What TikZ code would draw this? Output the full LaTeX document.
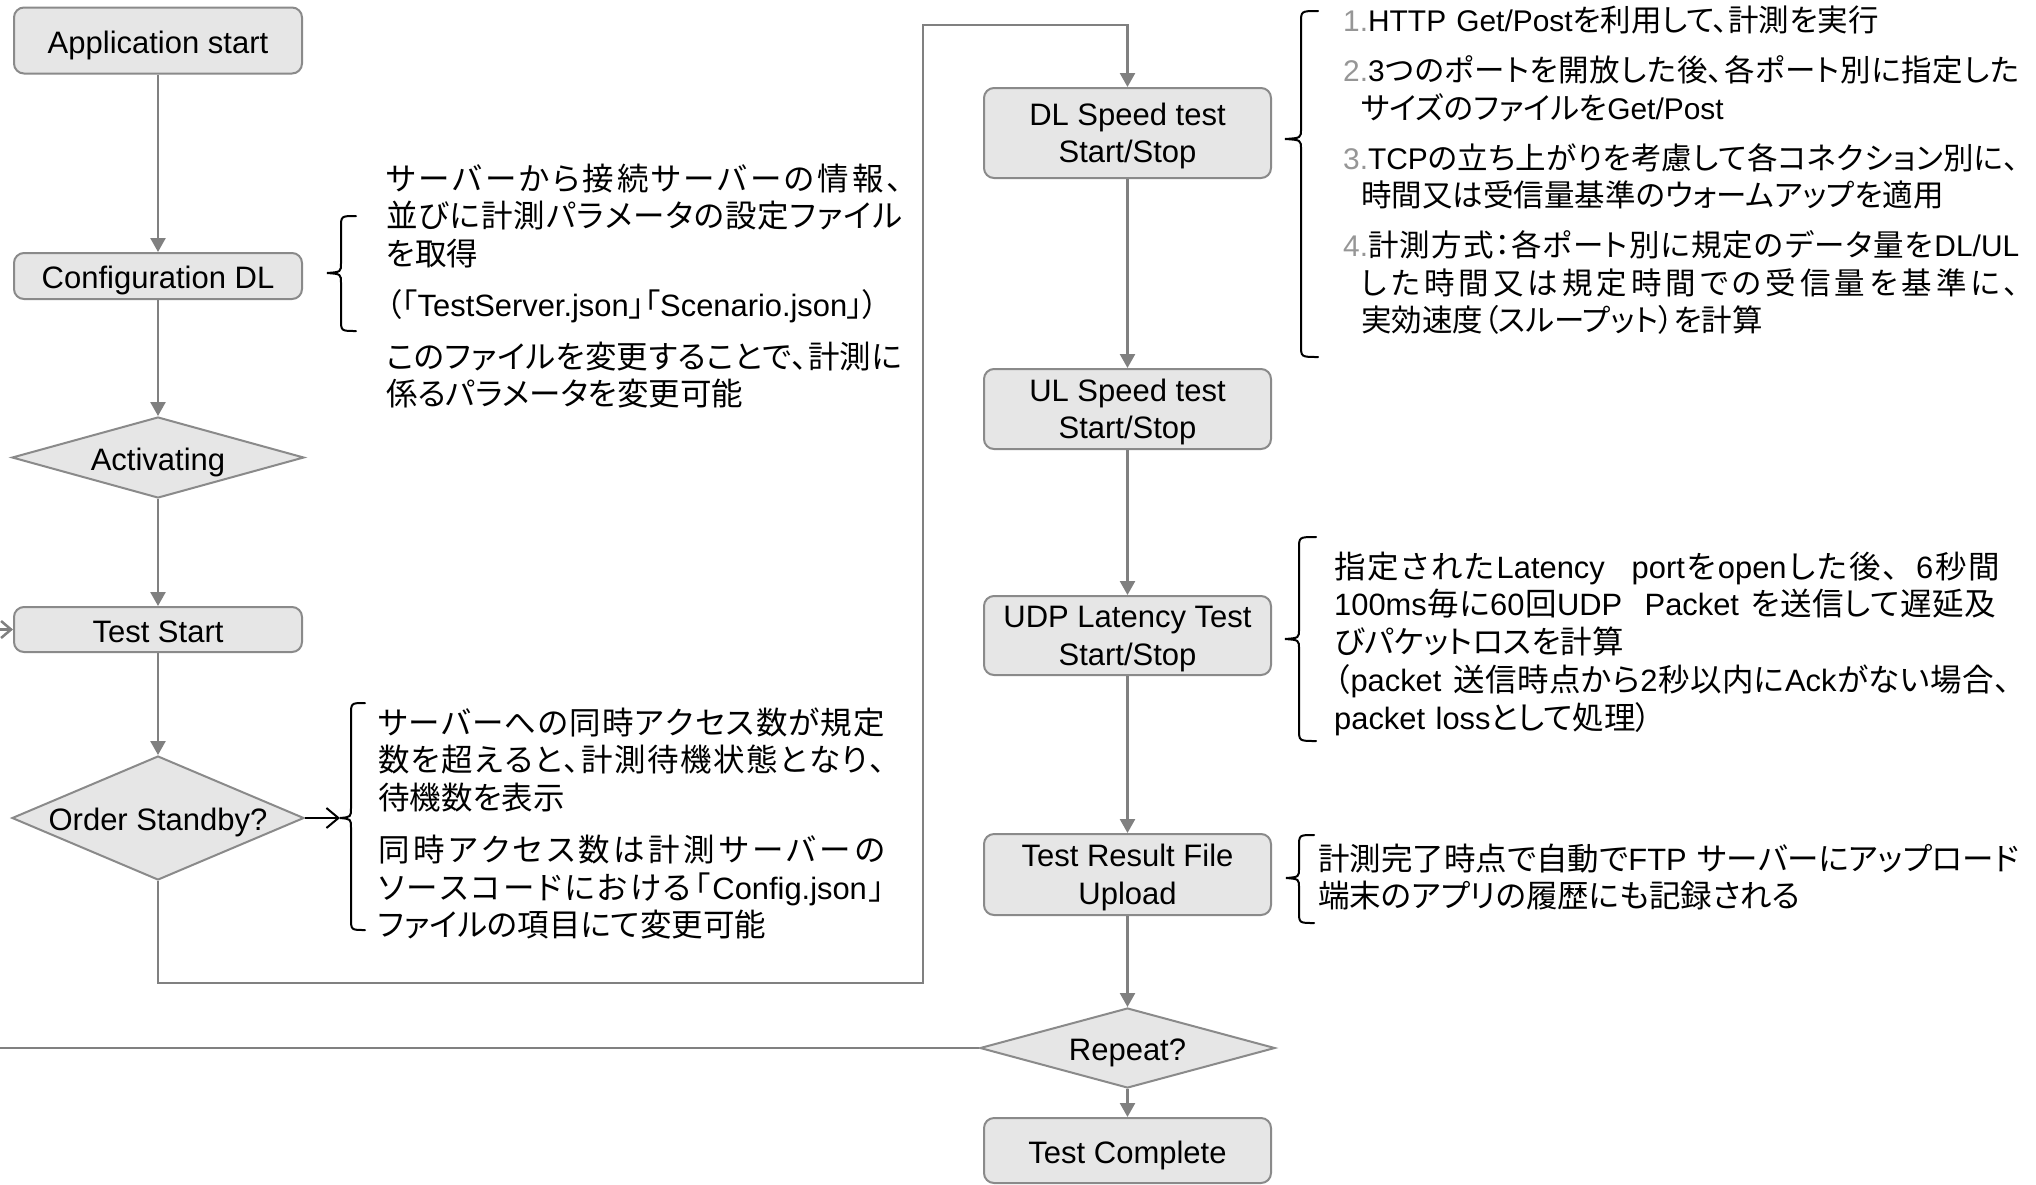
\documentclass[tikz,border=0pt]{standalone}
\usepackage{fontspec}
\setmainfont{Liberation Sans}
\newfontfamily\jpp[RawFeature=+palt]{Noto Sans CJK JP}
\newfontfamily\jpf{Noto Sans CJK JP}
\newfontfamily\lat[Scale=0.98]{Liberation Sans}
\usetikzlibrary{arrows.meta,shapes.geometric}
\definecolor{cline}{RGB}{128,128,128}
\definecolor{cborder}{RGB}{138,138,138}
\definecolor{cfill}{RGB}{230,230,230}
\definecolor{numgray}{RGB}{150,150,150}
\newcommand\lblfont{\fontsize{31}{37.5}\selectfont}
\newcommand\notefont{\jpp\fontsize{31.5}{37.5}\selectfont}
\newcommand\notefontb{\jpp\fontsize{30.5}{37.5}\selectfont}
\newcommand\notefontc{\jpp\fontsize{31.5}{37.75}\selectfont}
\newcommand\EN[1]{{\lat #1}}
\newcommand\FW[1]{{\jpf #1}}
\newcommand\twolines[2]{\rule{0pt}{28.5pt}#1\\#2\rule[-7pt]{0pt}{7pt}}
\makeatletter
\newcommand\jst[2]{\leavevmode\hbox to #1{\jst@#2\relax}}
\def\jst@#1{\ifx\relax#1\unskip\else#1\hskip 0pt plus 1fil\relax\expandafter\jst@\fi}
\makeatother
% brace: name, tip x, vertical x, hook x, top y, tip y, bottom y
\newcommand\curly[7]{%
  \coordinate (#1) at (#2,#6);
  \draw[brc] (#4,#5) .. controls (#3,#5) .. ({#3},{#5+12}) -- ({#3},{#6-10})
    .. controls (#3,{#6-1}) .. (#1) .. controls (#3,{#6+1}) .. ({#3},{#6+10})
    -- ({#3},{#7-12}) .. controls (#3,#7) .. (#4,#7);}
\begin{document}
\begin{tikzpicture}[x=1pt,y=-1pt,
  box/.style={draw=cborder, fill=cfill, line width=2pt, rounded corners=10pt,
    inner sep=0pt, font=\lblfont, align=center},
  one/.style={text height=32pt, text depth=7pt},
  diam/.style={diamond, draw=cborder, fill=cfill, line width=2pt, inner sep=0pt,
    font=\lblfont, text height=32pt, text depth=7pt},
  flow/.style={draw=cline, line width=2.5pt, -{Triangle[length=14pt,width=15pt]}},
  loopst/.style={draw=cline, line width=2.5pt, -{Straight Barb[length=10pt,width=17pt,line width=2.5pt]}},
  blk/.style={draw=black, line width=2pt, -{Straight Barb[length=12pt,width=20pt,line width=2pt]}},
  brc/.style={draw=black, line width=2pt, line cap=round},
  note/.style={anchor=base west, inner sep=0pt, text width=720pt, align=left}]
\fill[white] (0,0) rectangle (2036,1184);
\useasboundingbox (0,0) rectangle (2036,1184);

% left column
\node[box, one, minimum width=288pt, minimum height=66pt] (app) at (158,40.5) {Application start};
\node[box, one, minimum width=288pt, minimum height=46pt] (cfg) at (158,276) {Configuration DL};
\node[diam, minimum width=292pt, minimum height=81pt] (act) at (158,457.5) {\makebox[0pt]{Activating}};
\node[box, one, minimum width=288pt, minimum height=45pt] (ts) at (158,629.5) {Test Start};
\node[diam, minimum width=292pt, minimum height=124pt] (os) at (158,818) {\makebox[0pt]{Order Standby?}};

% right column
\node[box, minimum width=287pt, minimum height=90pt] (dl) at (1127.5,133) {\twolines{DL Speed test}{Start/Stop}};
\node[box, minimum width=287pt, minimum height=80pt] (ul) at (1127.5,409) {\twolines{UL Speed test}{Start/Stop}};
\node[box, minimum width=287pt, minimum height=79pt] (udp) at (1127.5,635.5) {\twolines{UDP Latency Test}{Start/Stop}};
\node[box, minimum width=287pt, minimum height=81pt] (up) at (1127.5,874.5) {\twolines{Test Result File}{Upload}};
\node[diam, minimum width=295pt, minimum height=80pt] (rep) at (1127.5,1048) {\makebox[0pt]{Repeat?}};
\node[box, one, minimum width=287pt, minimum height=65pt] (done) at (1127.5,1150.5) {Test Complete};

% connectors
\draw[flow] (app) -- (cfg);
\draw[flow] (cfg) -- (act);
\draw[flow] (act) -- (ts);
\draw[flow] (ts) -- (os);
\coordinate (lb) at (923,983);
\coordinate (lt) at (923,25);
\draw[flow] (os.south) |- (lb) -- (lt) -| (dl.north);
\draw[flow] (dl) -- (ul);
\draw[flow] (ul) -- (udp);
\draw[flow] (udp) -- (up);
\draw[flow] (up) -- (rep);
\draw[flow] (rep) -- (done);
\coordinate (loopx) at (-40,0);
\draw[loopst] (rep.west) -- (rep.west -| loopx) |- (ts.west);

% braces
\curly{bA}{327}{341}{356}{216}{273}{331}
\curly{bB}{1285}{1301}{1318}{11}{139}{357}
\curly{bC}{1285}{1299}{1316}{537}{639}{741}
\curly{bD}{1286}{1299}{1314}{835}{878}{923}
\curly{bE}{340}{351}{365}{703}{818}{930}
\draw[blk] (os.east) -- (bE);

% notes
\node[note, font=\notefont] (nA) at (386,190) {%
\jst{516pt}{サーバーから接続サーバーの情報、}\\
\jst{516pt}{並びに計測パラメータの設定ファイル}\\
を取得\\[14pt]
（「\EN{TestServer.json}」「\EN{Scenario.json}」）\\[14pt]
\jst{516pt}{このファイルを変更することで、計測に}\\
係るパラメータを変更可能};

\node[note, font=\notefont] (nE) at (378,734) {%
\jst{507pt}{サーバーへの同時アクセス数が規定}\\
\jst{507pt}{数を超えると、計測待機状態となり、}\\
待機数を表示\\[15pt]
\jst{507pt}{同時アクセス数は計測サーバーの}\\
\jst{507pt}{ソースコードにおける「{\EN{Config.json}}」}\\
ファイルの項目にて変更可能};

\node[note, font=\notefontb] (nB) at (1343,31.5) {%
{\color{numgray}\EN{1.}}\EN{HTTP Get/Post}を利用して、計測を実行\\[12.5pt]
\jst{676pt}{{{\color{numgray}\EN{2.}}\EN{3}}つのポートを開放した後、各ポート別に指定した}\\
\hspace*{18pt}サイズのファイルを\EN{Get/Post}\\[12.5pt]
\jst{676pt}{{{\color{numgray}\EN{3.}}\EN{TCP}}の立ち上がりを考慮して各コネクション別に、}\\
\hspace*{18pt}時間又は受信量基準のウォームアップを適用\\[12.5pt]
\jst{676pt}{{{\color{numgray}\EN{4.}}計}測方式：各ポート別に規定のデータ量を{\EN{DL/UL}}}\\
\hspace*{18pt}\jst{658pt}{した時間又は規定時間での受信量を基準に、}\\
\hspace*{18pt}実効速度（スループット）を計算};

\node[note, font=\notefontc] (nC) at (1334,578) {%
\jst{666pt}{指定された{\EN{Latency}}~~{\EN{port}}を{\EN{open}}した後{\FW{、}}{\EN{6}}秒間}\\
\jst{662pt}{{\EN{100ms}}毎に{\EN{60}}回{\EN{UDP}}~~{\EN{Packet}}~を送信して遅延及}\\
びパケットロスを計算\\
\jst{676pt}{（{\EN{packet}}~送信時点から{\EN{2}}秒以内に{\EN{Ack}}がない場合、}\\
\EN{packet loss}として処理）};

\node[note, font=\notefont] (nD) at (1318,870) {%
\jst{700pt}{計測完了時点で自動で{\EN{FTP}}~サーバーにアップロード}\\
端末のアプリの履歴にも記録される};
\end{tikzpicture}
\end{document}
